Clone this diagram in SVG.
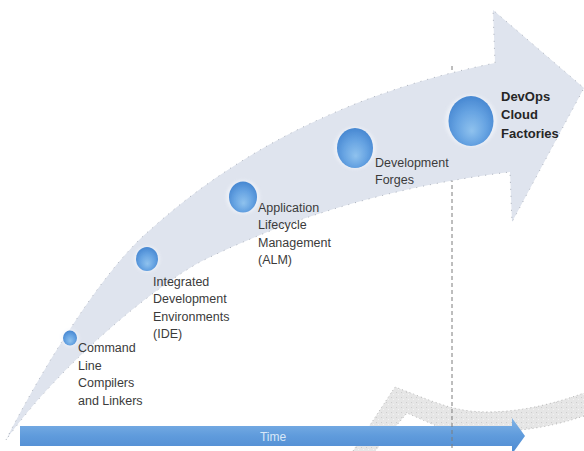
<svg xmlns="http://www.w3.org/2000/svg" width="584" height="451" viewBox="0 0 584 451">
  <defs>
    <radialGradient id="sphere" cx="50%" cy="58%" r="55%" fx="52%" fy="70%">
      <stop offset="0" stop-color="#8fc2ee"/>
      <stop offset="0.6" stop-color="#66a3e2"/>
      <stop offset="1" stop-color="#4a8ad3"/>
    </radialGradient>
    <linearGradient id="barFill" x1="0" y1="0" x2="0" y2="1">
      <stop offset="0" stop-color="#80b3e6"/>
      <stop offset="0.5" stop-color="#5f9bdc"/>
      <stop offset="1" stop-color="#4f8ad0"/>
    </linearGradient>
    <pattern id="speckle" width="5" height="5" patternUnits="userSpaceOnUse">
      <rect width="5" height="5" fill="#e6e6e6"/>
      <rect x="1" y="2" width="1" height="1" fill="#cdcdcd"/>
      <rect x="3" y="4" width="1" height="1" fill="#f4f4f4"/>
    </pattern>
    <filter id="soft" x="-30%" y="-30%" width="160%" height="160%">
      <feGaussianBlur stdDeviation="0.7"/>
    </filter>
    <filter id="halo" x="-40%" y="-40%" width="180%" height="180%">
      <feGaussianBlur stdDeviation="1.6"/>
    </filter>
  </defs>
  <style>
    .label { font-family: "Liberation Sans", Arial, sans-serif; font-size: 12.5px; fill: #3b3b3b; }
    .strong { font-family: "Liberation Sans", Arial, sans-serif; font-size: 13px; font-weight: bold; fill: #262626; }
    .dot { fill: url(#sphere); filter: url(#soft); }
    .glow { fill: #f4f7fc; opacity: 0.6; filter: url(#halo); }
    .edge { fill: none; stroke: #8f96a2; stroke-width: 1; stroke-dasharray: 1 6; opacity: 0.7; }
  </style>

  <rect width="584" height="451" fill="#ffffff"/>

  <!-- faint grey swoosh behind the time axis -->
  <g id="swoosh">
    <path d="M353,451 L395,387 C425,398 445,408 470,411 C510,415 550,405 584,393 L584,416 C560,424 540,428 520,430 L450,432 L407,413 L375,451 Z" fill="url(#speckle)"/>
    <path d="M353,451 L395,387 C425,398 445,408 470,411 C510,415 550,405 584,393 M584,416 C560,424 540,428 520,430 L450,432 L407,413 L375,451" fill="none" stroke="#a9a9a9" stroke-width="1" stroke-dasharray="1 3" opacity="0.8"/>
  </g>

  <g id="guides">
    <!-- time axis -->
    <g id="time-axis">
      <path d="M20,426 L512,426 L512,418 L525,436 L512,454 L512,446 L20,446 Z" fill="url(#barFill)"/>
      <text x="273" y="441" text-anchor="middle" font-family="Liberation Sans, Arial, sans-serif" font-size="12" fill="#d9e8f8">Time</text>
    </g>
    <!-- present-day marker -->
    <line x1="452" y1="66" x2="452" y2="451" stroke="#7d7d7d" stroke-width="1" stroke-dasharray="4 3"/>
  </g>

  <!-- rising evolution arrow -->
  <g id="evolution-arrow">
    <path d="M6,440 C36,380 100,272 150,230 C250,140 370,88 495,63 L493,10 L584,88 L512,222 L510,172 C410,184 300,212 200,262 C150,290 60,365 6,440 Z" fill="#dfe4ee"/>
    <path class="edge" d="M6,440 C36,380 100,272 150,230 C250,140 370,88 495,63 L493,10 L584,88 L512,222 L510,172 C410,184 300,212 200,262 C150,290 60,365 6,440 Z"/>
  </g>

  <g id="command-line">
    <circle class="glow" cx="70" cy="338" r="9"/>
    <ellipse class="dot" cx="70" cy="338" rx="7" ry="7.5"/>
    <text class="label" x="78" y="352">Command</text>
    <text class="label" x="78" y="370">Line</text>
    <text class="label" x="78" y="387">Compilers</text>
    <text class="label" x="78" y="405">and Linkers</text>
  </g>

  <g id="ide">
    <circle class="glow" cx="147" cy="259" r="13"/>
    <ellipse class="dot" cx="147" cy="259" rx="11" ry="12"/>
    <text class="label" x="153" y="286">Integrated</text>
    <text class="label" x="153" y="303">Development</text>
    <text class="label" x="153" y="321">Environments</text>
    <text class="label" x="153" y="338">(IDE)</text>
  </g>

  <g id="alm">
    <circle class="glow" cx="243" cy="197" r="17"/>
    <ellipse class="dot" cx="243" cy="197" rx="14" ry="15.5"/>
    <text class="label" x="258" y="212">Application</text>
    <text class="label" x="258" y="229">Lifecycle</text>
    <text class="label" x="258" y="247">Management</text>
    <text class="label" x="258" y="264">(ALM)</text>
  </g>

  <g id="forges">
    <circle class="glow" cx="355" cy="148" r="21"/>
    <ellipse class="dot" cx="355" cy="148" rx="18" ry="20"/>
    <text class="label" x="375" y="167">Development</text>
    <text class="label" x="375" y="184">Forges</text>
  </g>

  <g id="devops">
    <circle class="glow" cx="471" cy="121" r="26"/>
    <ellipse class="dot" cx="471" cy="121" rx="22.5" ry="25"/>
    <text class="strong" x="501" y="101">DevOps</text>
    <text class="strong" x="501" y="119">Cloud</text>
    <text class="strong" x="501" y="138">Factories</text>
  </g>
</svg>
